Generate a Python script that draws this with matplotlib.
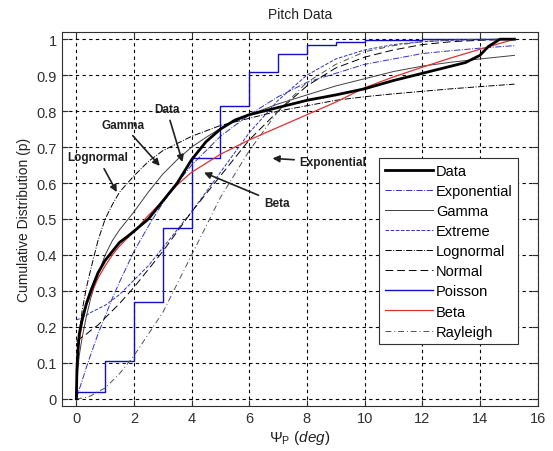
import numpy as np
import matplotlib
matplotlib.use('Agg')
import matplotlib.pyplot as plt

plt.rcParams['font.family'] = ['Liberation Sans', 'DejaVu Sans']
plt.rcParams['mathtext.fontset'] = 'custom'
plt.rcParams['mathtext.rm'] = 'Liberation Sans'
plt.rcParams['mathtext.it'] = 'Liberation Sans:italic'

# 实测数据曲线
data_x = [0, 0.02, 0.05, 0.1, 0.2, 0.35, 0.5, 0.75, 1, 1.25, 1.5, 1.75, 2, 2.5, 3, 3.5, 4, 4.5, 5, 5.5, 6, 7, 8, 9, 10, 11, 12, 13, 13.5, 14, 14.3, 14.7, 15.2]
data_y = [0, 0.08, 0.13, 0.18, 0.22, 0.265, 0.30, 0.35, 0.385, 0.41, 0.435, 0.45, 0.466, 0.50, 0.55, 0.60, 0.665, 0.715, 0.75, 0.775, 0.79, 0.81, 0.83, 0.845, 0.862, 0.885, 0.905, 0.925, 0.935, 0.955, 0.98, 1.0, 1.0]

# 拟合分布曲线（公共横坐标）
fit_x = [0, 0.02, 0.05, 0.1, 0.2, 0.35, 0.5, 0.75, 1, 1.25, 1.5, 2, 2.5, 3, 3.5, 4, 4.5, 5, 6, 7, 8, 9, 10, 11, 12, 13, 14, 15.2]
expo_y = [0, 0.005, 0.013, 0.026, 0.05, 0.088, 0.123, 0.18, 0.23, 0.28, 0.325, 0.41, 0.48, 0.545, 0.60, 0.65, 0.69, 0.73, 0.79, 0.84, 0.88, 0.905, 0.93, 0.945, 0.96, 0.968, 0.975, 0.982]
gamma_y = [0, 0.05, 0.08, 0.12, 0.17, 0.23, 0.28, 0.345, 0.40, 0.44, 0.47, 0.52, 0.575, 0.625, 0.665, 0.70, 0.727, 0.752, 0.79, 0.82, 0.845, 0.87, 0.89, 0.91, 0.925, 0.936, 0.945, 0.955]
extreme_y = [0.22, 0.22, 0.221, 0.222, 0.226, 0.232, 0.24, 0.25, 0.26, 0.275, 0.29, 0.33, 0.37, 0.42, 0.47, 0.52, 0.575, 0.63, 0.74, 0.83, 0.90, 0.945, 0.97, 0.985, 0.993, 0.997, 0.999, 1.0]
logn_y = [0, 0.07, 0.13, 0.18, 0.245, 0.31, 0.36, 0.44, 0.50, 0.54, 0.575, 0.62, 0.66, 0.69, 0.71, 0.73, 0.745, 0.76, 0.78, 0.80, 0.815, 0.83, 0.84, 0.848, 0.855, 0.862, 0.868, 0.875]
normal_y = [0.16, 0.161, 0.163, 0.166, 0.172, 0.18, 0.19, 0.205, 0.225, 0.245, 0.265, 0.31, 0.36, 0.41, 0.465, 0.52, 0.57, 0.62, 0.72, 0.80, 0.87, 0.92, 0.95, 0.97, 0.985, 0.993, 0.997, 1.0]
beta_y = [0, 0.06, 0.11, 0.16, 0.21, 0.26, 0.29, 0.335, 0.37, 0.40, 0.425, 0.465, 0.51, 0.55, 0.595, 0.63, 0.655, 0.68, 0.72, 0.755, 0.79, 0.825, 0.865, 0.895, 0.922, 0.948, 0.972, 1.0]
rayl_y = [0, 0, 0, 0.001, 0.002, 0.004, 0.008, 0.02, 0.03, 0.05, 0.07, 0.12, 0.18, 0.24, 0.32, 0.40, 0.48, 0.56, 0.69, 0.80, 0.88, 0.93, 0.965, 0.982, 0.993, 0.998, 1.0, 1.0]

# 泊松分布（阶梯）
pois_k = [0, 0, 1, 2, 3, 4, 5, 6, 7, 8, 9, 10, 11, 12, 13, 14, 15, 15.2]
pois_y = [0, 0.02, 0.105, 0.27, 0.475, 0.67, 0.815, 0.91, 0.96, 0.985, 0.993, 0.997, 0.999, 1.0, 1.0, 1.0, 1.0, 1.0]

fig = plt.figure(figsize=(5.53, 4.52), dpi=100)
ax = fig.add_axes([0.112, 0.0996, 0.86, 0.8274])

ax.plot(data_x, data_y, color='black', lw=2.0, label='Data', zorder=5)
ax.plot(fit_x, expo_y, color='#3030c0', lw=0.7, ls='-.', label='Exponential')
ax.plot(fit_x, gamma_y, color='#404040', lw=0.7, ls='-', label='Gamma')
ax.plot(fit_x, extreme_y, color='#3030c0', lw=0.7, ls='--', label='Extreme')
ax.plot(fit_x, logn_y, color='black', lw=0.7, ls='-.', label='Lognormal')
ax.plot(fit_x, normal_y, color='black', lw=0.7, ls=(0, (8, 4)), label='Normal')
ax.step(pois_k, pois_y, where='post', color='#1010c0', lw=1.0, label='Poisson')
ax.plot(fit_x, beta_y, color='#e03030', lw=0.9, label='Beta', zorder=4)
ax.plot(fit_x, rayl_y, color='#505050', lw=0.7, ls=(0, (6, 3, 1, 3)), label='Rayleigh')

ax.set_xlim(-0.5, 16)
ax.set_ylim(-0.02, 1.02)
ax.set_xticks(range(0, 17, 2))
ax.set_yticks(np.arange(0, 1.01, 0.1))
ax.set_yticklabels(['0', '0.1', '0.2', '0.3', '0.4', '0.5', '0.6', '0.7', '0.8', '0.9', '1'])
ax.tick_params(direction='in', top=True, right=True, labelsize=10.5, colors='#303030', length=4)
ax.grid(True, color='black', ls=(0, (3, 3)), lw=0.8)
for s in ax.spines.values():
    s.set_color('#303030')

ax.set_title('Pitch Data', fontsize=10, color='#202020', pad=10)
ax.set_xlabel(r'$\Psi_{\mathrm{P}}\ \mathit{(deg)}$', fontsize=11, color='#202020', labelpad=2)
ax.set_ylabel('Cumulative Distribution (p)', fontsize=10, color='#202020')

# 标注
ak = dict(arrowstyle='-|>', color='#202020', lw=1.2, mutation_scale=10)
ax.annotate('Data', xy=(3.71, 0.651), xytext=(3.13, 0.806), fontsize=8.5, fontweight='bold',
            ha='center', va='center', arrowprops=ak, color='#202020')
ax.annotate('Gamma', xy=(2.96, 0.642), xytext=(1.62, 0.762), fontsize=8.5, fontweight='bold',
            ha='center', va='center', arrowprops=ak, color='#202020')
ax.annotate('Lognormal', xy=(1.45, 0.568), xytext=(0.75, 0.671), fontsize=8.5, fontweight='bold',
            ha='center', va='center', arrowprops=ak, color='#202020')
ax.annotate('Beta', xy=(4.34, 0.632), xytext=(6.95, 0.545), fontsize=8.5, fontweight='bold',
            ha='center', va='center', arrowprops=ak, color='#202020')
ax.annotate('Exponential', xy=(6.71, 0.669), xytext=(7.75, 0.658), fontsize=8.5, fontweight='bold',
            ha='left', va='center', arrowprops=ak, color='#202020')

leg = ax.legend(loc='lower right', bbox_to_anchor=(0.975, 0.145), fontsize=10.5, frameon=True,
                fancybox=False, edgecolor='#303030', framealpha=1, handlelength=3.3,
                labelspacing=0.42, handletextpad=0.2, borderpad=0.4)
leg.get_frame().set_linewidth(0.8)

plt.savefig('out.png', dpi=100)
